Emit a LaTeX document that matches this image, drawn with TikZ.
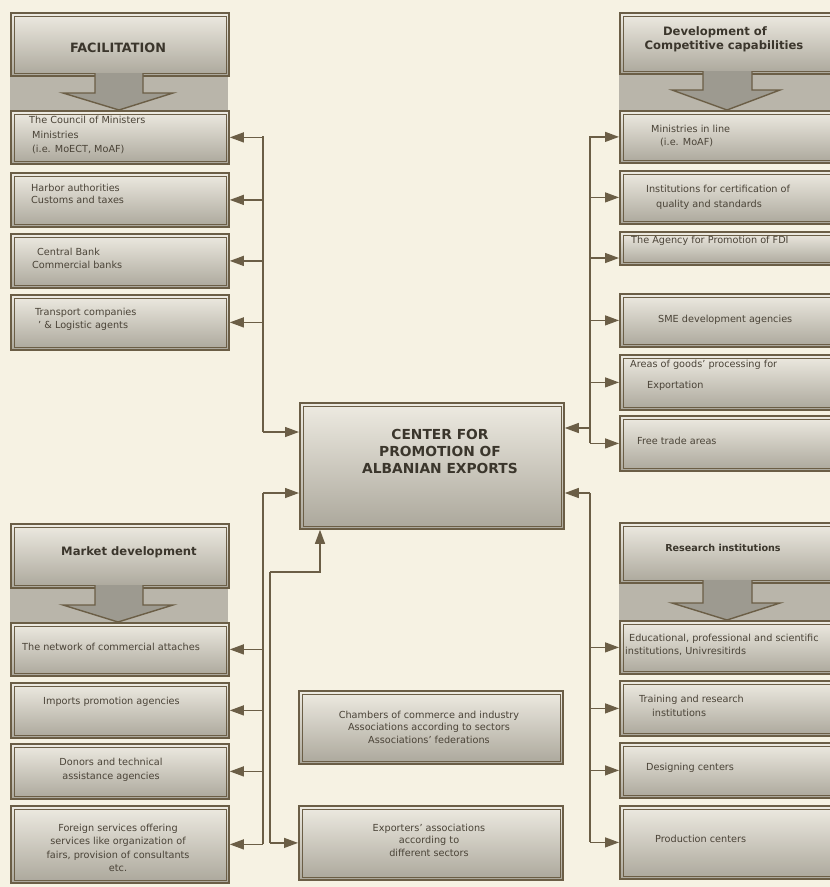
\documentclass[tikz,border=0pt]{standalone}
\usepackage{fontspec}
\setmainfont{DejaVu Sans}
\usetikzlibrary{arrows.meta}
\definecolor{bg}{HTML}{F6F2E3}
\definecolor{brn}{HTML}{6B5E46}
\definecolor{boxtop}{HTML}{EEEBE2}
\definecolor{boxbot}{HTML}{ABA79B}
\definecolor{bandc}{HTML}{B9B5AA}
\definecolor{ink}{HTML}{4A4337}
\tikzset{
  x=1pt, y=-1pt,
  box/.style={draw=brn, line width=1.8pt, top color=boxtop, bottom color=boxbot, inner sep=0pt, anchor=north west,
    path picture={\draw[brn, line width=0.7pt] ([shift={(3pt,-3pt)}]path picture bounding box.north west) rectangle ([shift={(-3pt,3pt)}]path picture bounding box.south east);}},
  blockarrow/.style={draw=brn, line width=1.4pt, fill=bandc!85!black, line join=miter},
  sm/.style={font=\fontsize{9.7}{11}\selectfont, text=ink, inner sep=0pt, anchor=west, text height=7pt, text depth=1.9pt},
  smc/.style={font=\fontsize{9.7}{#1}\selectfont, text=ink, inner sep=0pt, anchor=center, align=center},
  smc/.default=12.5,
  hd/.style={font=\bfseries\fontsize{#1}{#1}\selectfont, text=ink!80!black, inner sep=0pt, anchor=center},
  conn/.style={draw=brn, line width=1.3pt},
  arr/.style={conn, -{Triangle[width=10pt,length=14pt]}},
}
\newcommand\bx[5]{\node[box, minimum width={#4pt-#2pt}, minimum height={#5pt-#3pt}] (#1) at (#2,#3) {};}
\begin{document}
\begin{tikzpicture}
\useasboundingbox (0,0) rectangle (830,887);
\fill[bg] (0,0) rectangle (830,887);
\clip (0,0) rectangle (830,887);

% ---------- FACILITATION ----------
\fill[bandc] (10,75) rectangle (228,110);
\bx{fac}{10}{12}{228}{75}
\draw[blockarrow] (95,73) -- (95,93) -- (63,93) -- (119,110) -- (173,93) -- (143,93) -- (143,73);
\node[hd=12.8] (facT) at (118,48) {FACILITATION};
\bx{council}{10}{110}{228}{163}
\bx{harbor}{10}{172}{228}{226}
\bx{bank}{10}{233}{228}{287}
\bx{transport}{10}{294}{228}{349}
\node[sm] (t1) at (29,121) {The Council of Ministers};
\node[sm] (t2) at (32,136) {Ministries};
\node[sm] (t3) at (32,150) {(i.e. MoECT, MoAF)};
\node[sm] (t4) at (31,189) {Harbor authorities};
\node[sm] (t5) at (31,201) {Customs and taxes};
\node[sm] (t6) at (37,253) {Central Bank};
\node[sm] (t7) at (32,266) {Commercial banks};
\node[sm] (t8) at (35,313) {Transport companies};
\node[sm] (t9) at (38,326) {' \& Logistic agents};

% ---------- DEVELOPMENT ----------
\fill[bandc] (619,73) rectangle (830,110);
\bx{dev}{619}{12}{834}{73}
\draw[blockarrow] (703,71) -- (703,90) -- (672,90) -- (727,110) -- (780,90) -- (752,90) -- (752,71);
\node[hd=11.6] (devT1) at (715,32) {Development of};
\node[hd=11.6] (devT2) at (724,46) {Competitive capabilities};
\bx{minis}{619}{110}{834}{162}
\bx{cert}{619}{170}{834}{223}
\bx{fdi}{619}{231}{834}{264}
\bx{sme}{619}{293}{834}{346}
\bx{areas}{619}{354}{834}{409}
\bx{free}{619}{415}{834}{470}
\node[sm] (r1) at (651,130) {Ministries in line};
\node[sm] (r2) at (660,143) {(i.e. MoAF)};
\node[sm] (r3) at (646,190) {Institutions for certification of};
\node[sm] (r4) at (656,205) {quality and standards};
\node[sm] (r5) at (631,241) {The Agency for Promotion of FDI};
\node[sm] (r6) at (658,320) {SME development agencies};
\node[sm] (r7) at (630,365) {Areas of goods’ processing for};
\node[sm] (r8) at (647,386) {Exportation};
\node[sm] (r9) at (637,442) {Free trade areas};

% ---------- CENTER ----------
\bx{center}{299}{402}{563}{528}
\node[font=\bfseries\fontsize{13.8}{17}\selectfont, text=ink!80!black, align=center, inner sep=0pt] (centerT) at (440,451) {CENTER FOR\\PROMOTION OF\\ALBANIAN EXPORTS};

% ---------- MARKET ----------
\fill[bandc] (10,587) rectangle (228,622);
\bx{mkt}{10}{523}{228}{587}
\draw[blockarrow] (95,585) -- (95,605) -- (63,605) -- (118,622) -- (173,605) -- (143,605) -- (143,585);
\node[hd=11.6] (mktT) at (129,552) {Market development};
\bx{network}{10}{622}{228}{675}
\bx{imports}{10}{682}{228}{737}
\bx{donors}{10}{743}{228}{798}
\bx{foreign}{10}{805}{228}{882}
\node[sm] (m1) at (22,648) {The network of commercial attaches};
\node[sm] (m2) at (43,702) {Imports promotion agencies};
\node[smc=14] (m3) at (111,770) {Donors and technical\\assistance agencies};
\node[smc=13.3] (m4) at (118,848) {Foreign services offering\\services like organization of\\fairs, provision of consultants\\etc.};

% ---------- RESEARCH ----------
\fill[bandc] (619,582) rectangle (830,620);
\bx{res}{619}{522}{834}{582}
\draw[blockarrow] (703,580) -- (703,603) -- (672,603) -- (727,620) -- (780,603) -- (752,603) -- (752,580);
\node[hd=9.6] (resT) at (723,548) {Research institutions};
\bx{edu}{619}{620}{834}{673}
\bx{train}{619}{680}{834}{735}
\bx{design}{619}{742}{834}{797}
\bx{prod}{619}{805}{834}{878}
\node[sm] (e1) at (629,639) {Educational, professional and scientific};
\node[sm] (e2) at (625,652) {institutions, Univresitirds};
\node[sm] (e3) at (639,700) {Training and research};
\node[sm] (e4) at (652,714) {institutions};
\node[sm] (e5) at (646,768) {Designing centers};
\node[sm] (e6) at (655,840) {Production centers};

% ---------- CENTER BOTTOM ----------
\bx{chambers}{298}{690}{562}{763}
\bx{exporters}{298}{805}{562}{879}
\node[smc=12.5] (c1) at (429,727) {Chambers of commerce and industry\\Associations according to sectors\\Associations’ federations};
\node[smc=12.5] (c2) at (429,840) {Exporters’ associations\\according to\\different sectors};

% ---------- CONNECTORS ----------
% left top bus
\coordinate (LTt) at (263,136);
\coordinate (LTb) at (263,432);
\draw[conn] (LTt) -- (LTb);
\draw[arr] (LTb) -- (LTb -| center.west);
\foreach \b in {council,harbor,bank,transport} \draw[arr] (\b.east -| LTt) -- (\b.east);
% left bottom bus
\coordinate (LBt) at (263,493);
\draw[conn] (LBt) -- (foreign.east -| LBt);
\draw[arr] (LBt) -- (LBt -| center.west);
\foreach \b in {network,imports,donors,foreign} \draw[arr] (\b.east -| LBt) -- (\b.east);
% exporters link
\coordinate (M1) at (320,572);
\coordinate (M2) at (270,572);
\draw[arr] (exporters.west -| M2) -- (exporters.west);
\draw[conn] (M2) -- (exporters.west -| M2);
\draw[arr] (M2) -- (M1) -- (M1 |- center.south);
% right top bus
\coordinate (RTt) at (590,136);
\coordinate (RTc) at (590,428);
\coordinate (RTf) at (590,258);
\draw[conn] (RTt) -- (free.west -| RTt);
\draw[arr] (RTc) -- (RTc -| center.east);
\foreach \b in {minis,cert,sme,areas,free} \draw[arr] (\b.west -| RTt) -- (\b.west);
\draw[arr] (RTf) -- (RTf -| fdi.west);
% right bottom bus
\coordinate (RBt) at (590,493);
\draw[conn] (RBt) -- (prod.west -| RBt);
\draw[arr] (RBt) -- (RBt -| center.east);
\foreach \b in {edu,train,design,prod} \draw[arr] (\b.west -| RBt) -- (\b.west);
\end{tikzpicture}
\end{document}
